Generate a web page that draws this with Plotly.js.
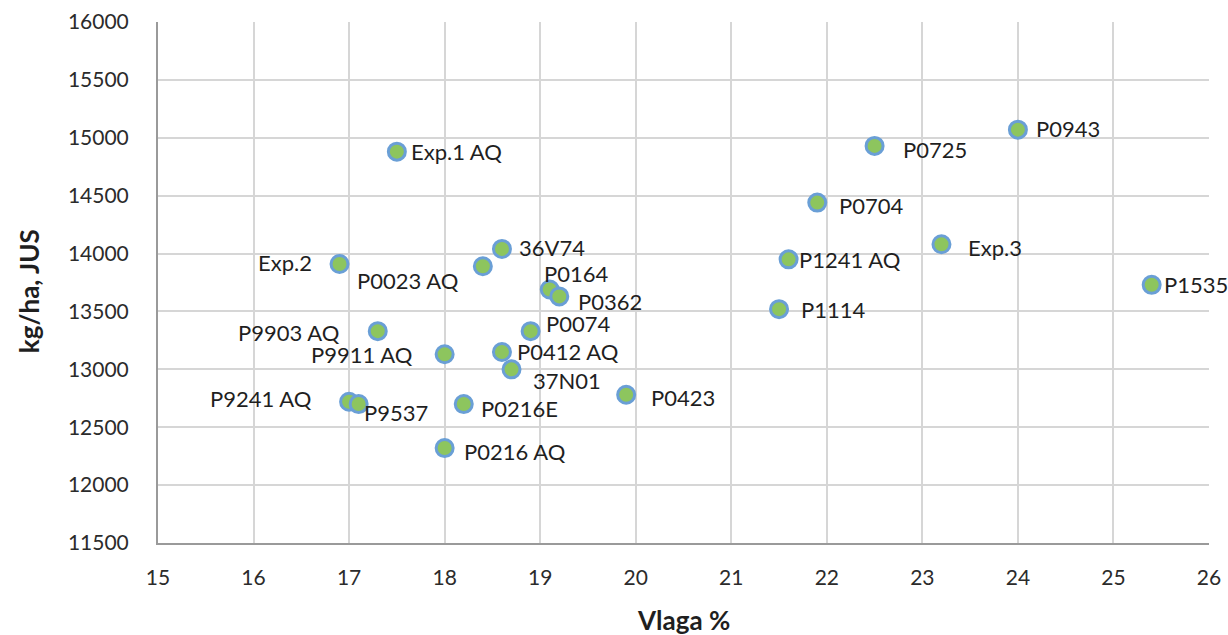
<!DOCTYPE html>
<html>
<head>
<meta charset="utf-8">
<script src="https://cdn.plot.ly/plotly-3.0.1.min.js"></script>
<style>html,body{margin:0;padding:0;background:#fff;}#chart{width:1228px;height:635px;}</style>
</head>
<body>
<div id="chart"></div>
<script>
// Data
const hybrids = ["Exp.1 AQ","P0725","P0943","P0704","Exp.3","P1241 AQ","P1114","P1535","P0423",
  "Exp.2","36V74","P0023 AQ","P0164","P0362","P0074","P9903 AQ","P9911 AQ","P0412 AQ","37N01",
  "P9241 AQ","P9537","P0216E","P0216 AQ"];
const moisture = [17.5,22.5,24.0,21.9,23.2,21.6,21.5,25.4,19.9,
  16.9,18.6,18.4,19.1,19.2,18.9,17.3,18.0,18.6,18.7,
  17.0,17.1,18.2,18.0];
const yieldKg = [14880,14930,15070,14440,14080,13950,13520,13730,12780,
  13910,14040,13890,13690,13630,13330,13330,13130,13150,13000,
  12720,12700,12700,12320];
const xTicks = [15,16,17,18,19,20,21,22,23,24,25,26];
const yTicks = [11500,12000,12500,13000,13500,14000,14500,15000,15500,16000];

// Label placement (pixels): anchor side, horizontal shift, vertical shift (down positive)
const labelSide = ["left","left","left","left","left","left","left","left","left",
  "right","left","right","left","left","left","right","right","left","left",
  "right","left","left","left"];
const labelDx = [13,27,17,21,26,9,21,11,24,-27,16,-23,-7,18,14,-37,-31,14,20,-36,4,16,18];
const labelDy = [0,4,-1,3,3,0,0,0,3,-1,-1,14,-16,5,-8,1,0,0,11,-3,8,4,3];

const labelFont = {family:"Lato, 'Open Sans', sans-serif", size:22, color:"#1f1f1f"};
const annotations = hybrids.map((name,i)=>({
  x: moisture[i], y: yieldKg[i], xref:"x", yref:"y",
  text: name, showarrow:false, xanchor: labelSide[i], yanchor:"middle",
  xshift: labelDx[i], yshift: -labelDy[i], font: labelFont, borderpad:0
}));
annotations.push({
  text:"<b>Vlaga %</b>", xref:"paper", yref:"paper", x:0.5, y:-0.148,
  xanchor:"center", yanchor:"middle", showarrow:false,
  font:{family:"Lato, sans-serif", size:26, color:"#1f1f1f"}
});
annotations.push({
  text:"<b>kg/ha, JUS</b>", xref:"paper", yref:"paper", x:-0.1233, y:0.484,
  xanchor:"center", yanchor:"middle", showarrow:false, textangle:-90,
  font:{family:"Lato, sans-serif", size:26, color:"#1f1f1f"}
});

const trace = {
  type:"scatter", mode:"markers", x: moisture, y: yieldKg, text: hybrids,
  marker:{size:17, color:"#8DC55E", line:{color:"#6A9FD6", width:3}},
  hoverinfo:"text+x+y", cliponaxis:false
};

const tickFont = {family:"Lato, 'Open Sans', sans-serif", size:21, color:"#2b2b2b"};
const layout = {
  width:1228, height:635,
  margin:{l:158, r:19, t:22, b:92},
  paper_bgcolor:"#ffffff", plot_bgcolor:"#ffffff",
  showlegend:false,
  xaxis:{range:[15,26], tickmode:"array", tickvals:xTicks, ticktext:xTicks.map(String),
    showgrid:true, gridcolor:"#D6D6D6", gridwidth:2, zeroline:false,
    showline:true, linecolor:"#9A9A9A", linewidth:2, ticks:"", ticklabelstandoff:15,
    tickfont:tickFont, fixedrange:true},
  yaxis:{range:[11500,16000], tickmode:"array", tickvals:yTicks, ticktext:yTicks.map(String),
    showgrid:true, gridcolor:"#D6D6D6", gridwidth:2, zeroline:false,
    showline:true, linecolor:"#9A9A9A", linewidth:2, ticks:"", ticklabelstandoff:23,
    tickfont:tickFont, fixedrange:true},
  annotations: annotations
};
Plotly.newPlot("chart",[trace],layout,{displayModeBar:false, staticPlot:true});
</script>
</body>
</html>
